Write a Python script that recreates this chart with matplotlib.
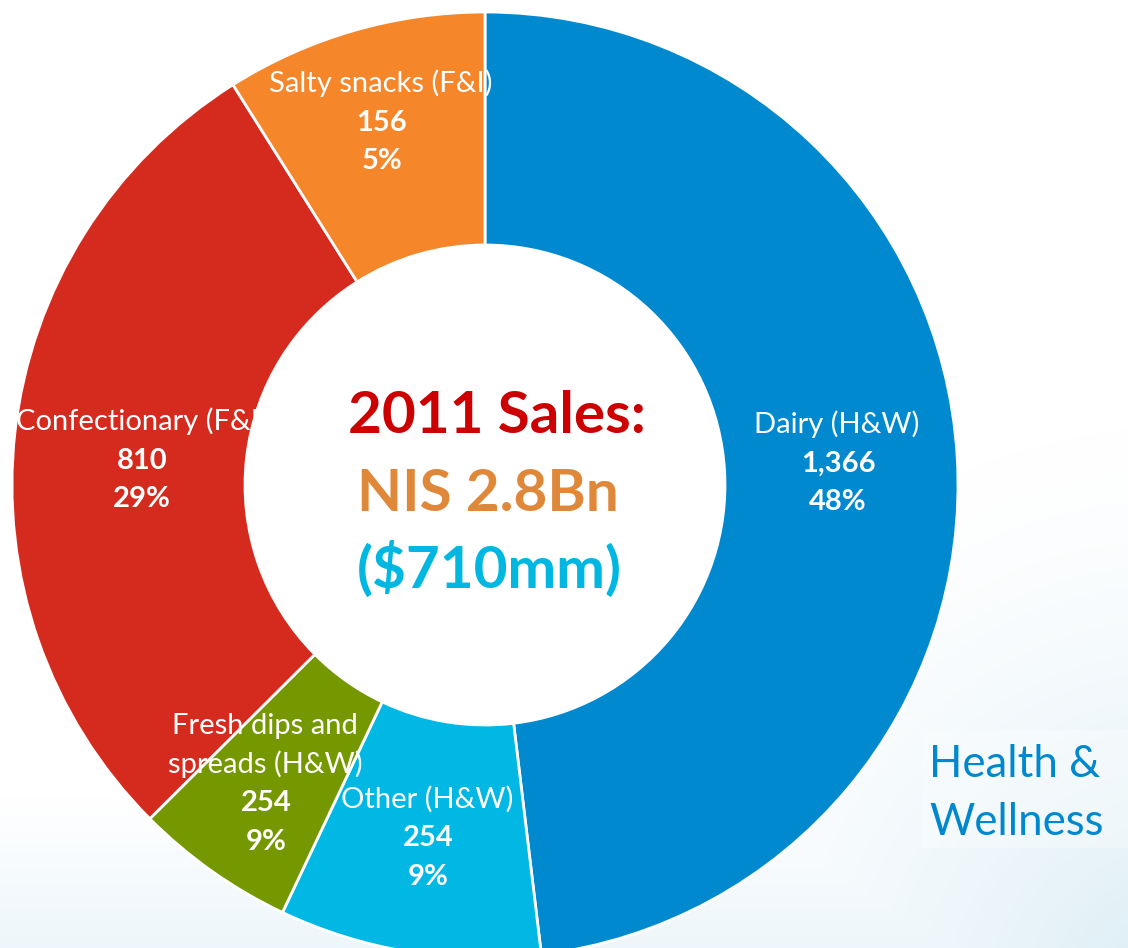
import numpy as np
import matplotlib.pyplot as plt
from matplotlib.patches import Rectangle

plt.rcParams['font.family'] = ['Lato', 'DejaVu Sans']

# segment data (NIS mm, 2011); slice sizes as drawn in the source slide
names = ['Dairy (H&W)', 'Other (H&W)', 'Fresh dips and\nspreads (H&W)',
         'Confectionary (F&I)', 'Salty snacks (F&I)']
slice_sales = [1366, 254, 156, 810, 254]
label_sales = [1366, 254, 254, 810, 156]
label_pct = [48, 9, 9, 29, 5]
colors = ['#0089CF', '#00B8E3', '#759800', '#D52B1E', '#F5862A']

# label anchors: x centre and baseline of first line, pixels from top-left
label_pos = [(837, 433), (427, 808), (265, 734), (141, 430), (381, 92)]
pitch = 38.5

W, H = 1128, 948
fig = plt.figure(figsize=(W / 100, H / 100), dpi=100)
ax = fig.add_axes([0, 0, 1, 1])


def Y(y):
    return H - y


# faint blue wash at the bottom / bottom-right of the slide
xx, yy = np.meshgrid(np.linspace(0, W, 400), np.linspace(0, H, 400))
w_v = np.clip((yy - 800) / 148, 0, 1) * 0.45
d = np.hypot(xx - W - 60, yy - H - 60)
w_r = np.clip(1 - d / 580, 0, 1) ** 1.4
w = np.maximum(w_v, w_r)
tint = np.array([0.85, 0.925, 0.96])
img = np.ones((400, 400, 3)) * (1 - w[..., None]) + tint * w[..., None]
ax.imshow(img, extent=(0, W, 0, H), origin='upper', zorder=0, aspect='auto')
ax.add_patch(Rectangle((922, Y(848)), W - 922, 118, facecolor='white',
                       alpha=0.3, edgecolor='none', zorder=1))

cx, cy, r_out, r_in = 485, 485, 473, 240
ax.pie(slice_sales, colors=colors, startangle=90, counterclock=False,
       center=(cx, Y(cy)), radius=r_out,
       wedgeprops=dict(width=r_out - r_in, edgecolor='white', linewidth=2,
                       zorder=2))

for name, v, p, (lx, ly) in zip(names, label_sales, label_pct, label_pos):
    lines = name.split('\n')
    for i, ln in enumerate(lines):
        ax.text(lx, Y(ly + i * pitch), ln, color='white', fontsize=21,
                ha='center', va='baseline', zorder=5)
    y0 = ly + len(lines) * pitch
    ax.text(lx + 1, Y(y0), f'{v:,}', color='white', fontsize=21,
            fontweight='bold', ha='center', va='baseline', zorder=5)
    ax.text(lx + 1, Y(y0 + pitch), f'{p}%', color='white', fontsize=21,
            fontweight='bold', ha='center', va='baseline', zorder=5)

# centre title
ax.text(497, Y(433), '2011 Sales:', color='#CC0000', fontsize=42,
        fontweight='bold', ha='center', va='baseline', zorder=5)
ax.text(488, Y(511), 'NIS 2.8Bn', color='#E0883A', fontsize=42,
        fontweight='bold', ha='center', va='baseline', zorder=5)
ax.text(489, Y(588), '($710mm)', color='#00B7E2', fontsize=42,
        fontweight='bold', ha='center', va='baseline', zorder=5)

ax.text(929, Y(777), 'Health &', color='#0088CE', fontsize=31.5,
        ha='left', va='baseline', zorder=5)
ax.text(929, Y(835), 'Wellness', color='#0088CE', fontsize=31.5,
        ha='left', va='baseline', zorder=5)

ax.set_xlim(0, W)
ax.set_ylim(0, H)
ax.axis('off')
fig.savefig('out.png', dpi=100)
